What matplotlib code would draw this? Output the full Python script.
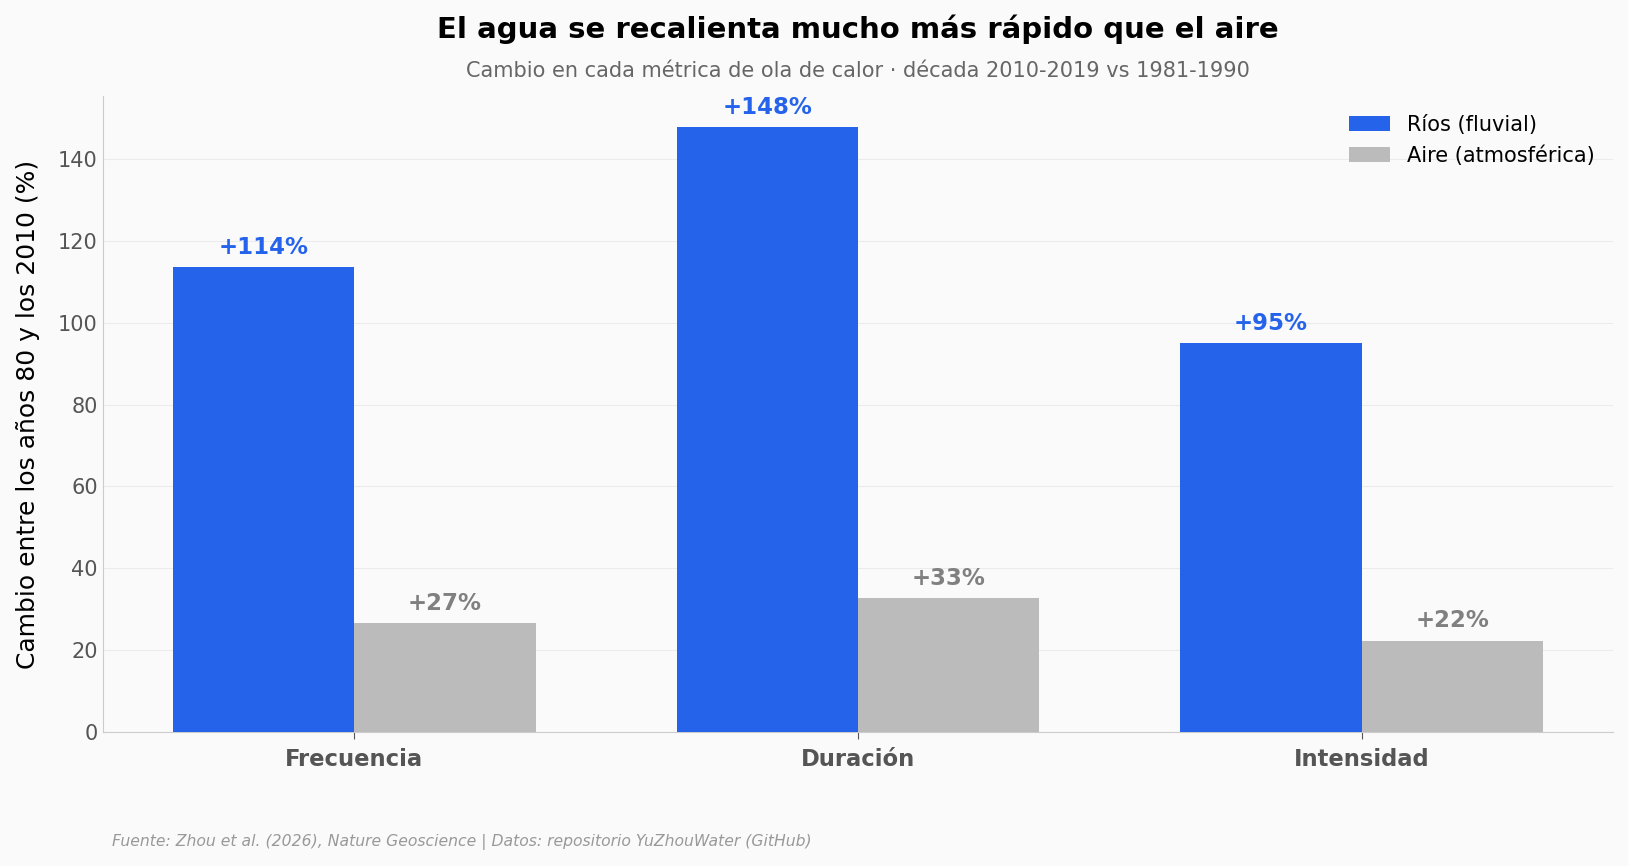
import numpy as np
import matplotlib.pyplot as plt

metricas = ['Frecuencia', 'Duración', 'Intensidad']
rios = [113.6, 147.9, 95.1]
aire = [26.6, 32.7, 22.3]
etiquetas_rios = ['+114%', '+148%', '+95%']
etiquetas_aire = ['+27%', '+33%', '+22%']

azul = '#2563EB'
gris = '#BBBBBB'

fig = plt.figure(figsize=(16.28, 8.66), dpi=100, facecolor='#FAFAFA')
ax = fig.add_axes([0.063, 0.155, 0.928, 0.734])
ax.set_facecolor('#FAFAFA')

x = np.arange(len(metricas))
w = 0.36
b1 = ax.bar(x - w / 2, rios, w, color=azul, label='Ríos (fluvial)', zorder=3)
b2 = ax.bar(x + w / 2, aire, w, color=gris, label='Aire (atmosférica)', zorder=3)

for rect, txt in zip(b1, etiquetas_rios):
    ax.text(rect.get_x() + rect.get_width() / 2, rect.get_height() + 2, txt,
            ha='center', va='bottom', fontsize=16.5, fontweight='bold', color=azul)
for rect, txt in zip(b2, etiquetas_aire):
    ax.text(rect.get_x() + rect.get_width() / 2, rect.get_height() + 2, txt,
            ha='center', va='bottom', fontsize=16.5, fontweight='bold', color='#808080')

ax.set_xlim(-0.5, 2.5)
ax.set_ylim(0, 155.4)
ax.set_xticks(x)
ax.set_xticklabels(metricas, fontsize=16.3, fontweight='bold', color='#555555')
ax.tick_params(axis='y', labelsize=15, colors='#555555', length=0)
ax.tick_params(axis='x', colors='#555555', length=5, pad=7)
ax.set_ylabel('Cambio entre los años 80 y los 2010 (%)', fontsize=18, labelpad=13)

ax.yaxis.grid(True, color='#EBEBEB', linewidth=0.8, zorder=0)
ax.set_axisbelow(True)
for s in ['top', 'right']:
    ax.spines[s].set_visible(False)
for s in ['left', 'bottom']:
    ax.spines[s].set_color('#CCCCCC')

ax.legend(loc='upper right', frameon=False, fontsize=15)

fig.text(0.527, 0.966, 'El agua se recalienta mucho más rápido que el aire',
         ha='center', va='center', fontsize=21, fontweight='bold')
fig.text(0.527, 0.918, 'Cambio en cada métrica de ola de calor · década 2010-2019 vs 1981-1990',
         ha='center', va='center', fontsize=15, color='#666666')
fig.text(0.069, 0.028, 'Fuente: Zhou et al. (2026), Nature Geoscience | Datos: repositorio YuZhouWater (GitHub)',
         ha='left', va='center', fontsize=11.25, style='italic', color='#999999')

fig.savefig('out.png', dpi=100, facecolor=fig.get_facecolor())
